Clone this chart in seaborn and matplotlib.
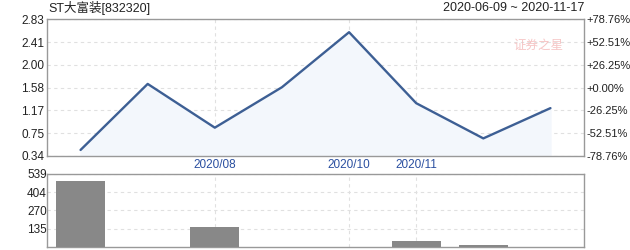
import matplotlib
matplotlib.use("Agg")
import matplotlib.pyplot as plt
import seaborn as sns
import numpy as np
import pandas as pd

# ---- data ----
idx = [0, 1, 2, 3, 4, 5, 6, 7]
price = [0.45, 1.65, 0.855, 1.59, 2.59, 1.30, 0.66, 1.21]
volume = [489, 0, 148, 0, 0, 44, 15, 0]
xtick_pos = [2, 4, 5]
xtick_labels = ["2020/08", "2020/10", "2020/11"]
price_ticks = [0.34, 0.75, 1.17, 1.58, 2.00, 2.41, 2.83]
pct_ticks = [-78.76, -52.51, -26.25, 0.00, 26.25, 52.51, 78.76]
vol_ticks = [135, 270, 404, 539]
title = "ST大富装[832320]"
date_range = "2020-06-09 ~ 2020-11-17"

sns.set_theme(style="white")
plt.rcParams['font.family'] = ['Liberation Sans', 'Noto Sans CJK SC', 'DejaVu Sans']

W, H = 630, 250
fig = plt.figure(figsize=(W / 100, H / 100), dpi=100)

def box(l, t, r, b):
    return [l / W, 1 - b / H, (r - l) / W, (b - t) / H]

ax = fig.add_axes(box(47, 19, 584, 156))
axv = fig.add_axes(box(47, 174, 584, 247))

df = pd.DataFrame({"idx": idx, "price": price, "volume": volume})

line_col = "#3d5f94"
ax.fill_between(df["idx"], df["price"], price_ticks[0], color="#f3f7fc", zorder=1)
sns.lineplot(data=df, x="idx", y="price", ax=ax, color=line_col, linewidth=1.7, zorder=3)
ax.set_xlim(-0.5, 7.5)
ax.set_ylim(price_ticks[0], price_ticks[-1])
ax.set_yticks(price_ticks)
ax.set_yticklabels([f"{v:.2f}" for v in price_ticks])
ax.set_xticks(xtick_pos)
ax.set_xticklabels(xtick_labels)
ax.set_xlabel("")
ax.set_ylabel("")
grid_kw = dict(color="#e0e0e0", linestyle=(0, (3, 3)), linewidth=0.8)
ax.grid(True, axis="both", **grid_kw)
ax.set_axisbelow(True)
ax.tick_params(axis="y", length=0, pad=2, labelsize=8.5, labelcolor="#222222")
ax.tick_params(axis="x", length=0, pad=2, labelsize=8.5, labelcolor="#2a4fa0")
for s in ax.spines.values():
    s.set_color("#999999")
    s.set_linewidth(1.0)

ax2 = ax.twinx()
ax2.set_ylim(pct_ticks[0], pct_ticks[-1])
ax2.set_yticks(pct_ticks)
ax2.set_yticklabels([("+" if v >= 0 else "") + f"{v:.2f}%" for v in pct_ticks])
ax2.tick_params(axis="y", length=0, pad=1.5, labelsize=8, labelcolor="#222222")
ax2.grid(False)
for s in ax2.spines.values():
    s.set_visible(False)

sns.barplot(data=df, x="idx", y="volume", ax=axv, color="#888888", width=0.73,
            saturation=1, zorder=3, edgecolor="none", linewidth=0)
axv.set_xlim(-0.5, 7.5)
axv.set_ylim(0, vol_ticks[-1])
axv.set_yticks(vol_ticks)
axv.set_yticklabels([str(v) for v in vol_ticks])
axv.set_xticks(xtick_pos)
axv.set_xticklabels([])
axv.set_xlabel("")
axv.set_ylabel("")
axv.grid(True, axis="both", **grid_kw)
axv.set_axisbelow(True)
axv.tick_params(axis="y", length=0, pad=0, labelsize=8.5, labelcolor="#222222")
axv.tick_params(axis="x", length=0)
for s in axv.spines.values():
    s.set_color("#999999")
    s.set_linewidth(1.0)

fig.text(48 / W, 1 - 8 / H, title, ha="left", va="center", fontsize=9, color="#222222")
fig.text(584 / W, 1 - 8 / H, date_range, ha="right", va="center", fontsize=9,
         color="#222222")
fig.text(538 / W, 1 - 45 / H, "证券之星", ha="center", va="center", fontsize=9,
         color="#f4b8b8", alpha=0.8, family=["Noto Sans CJK SC"])

fig.savefig("out.png", dpi=100)
